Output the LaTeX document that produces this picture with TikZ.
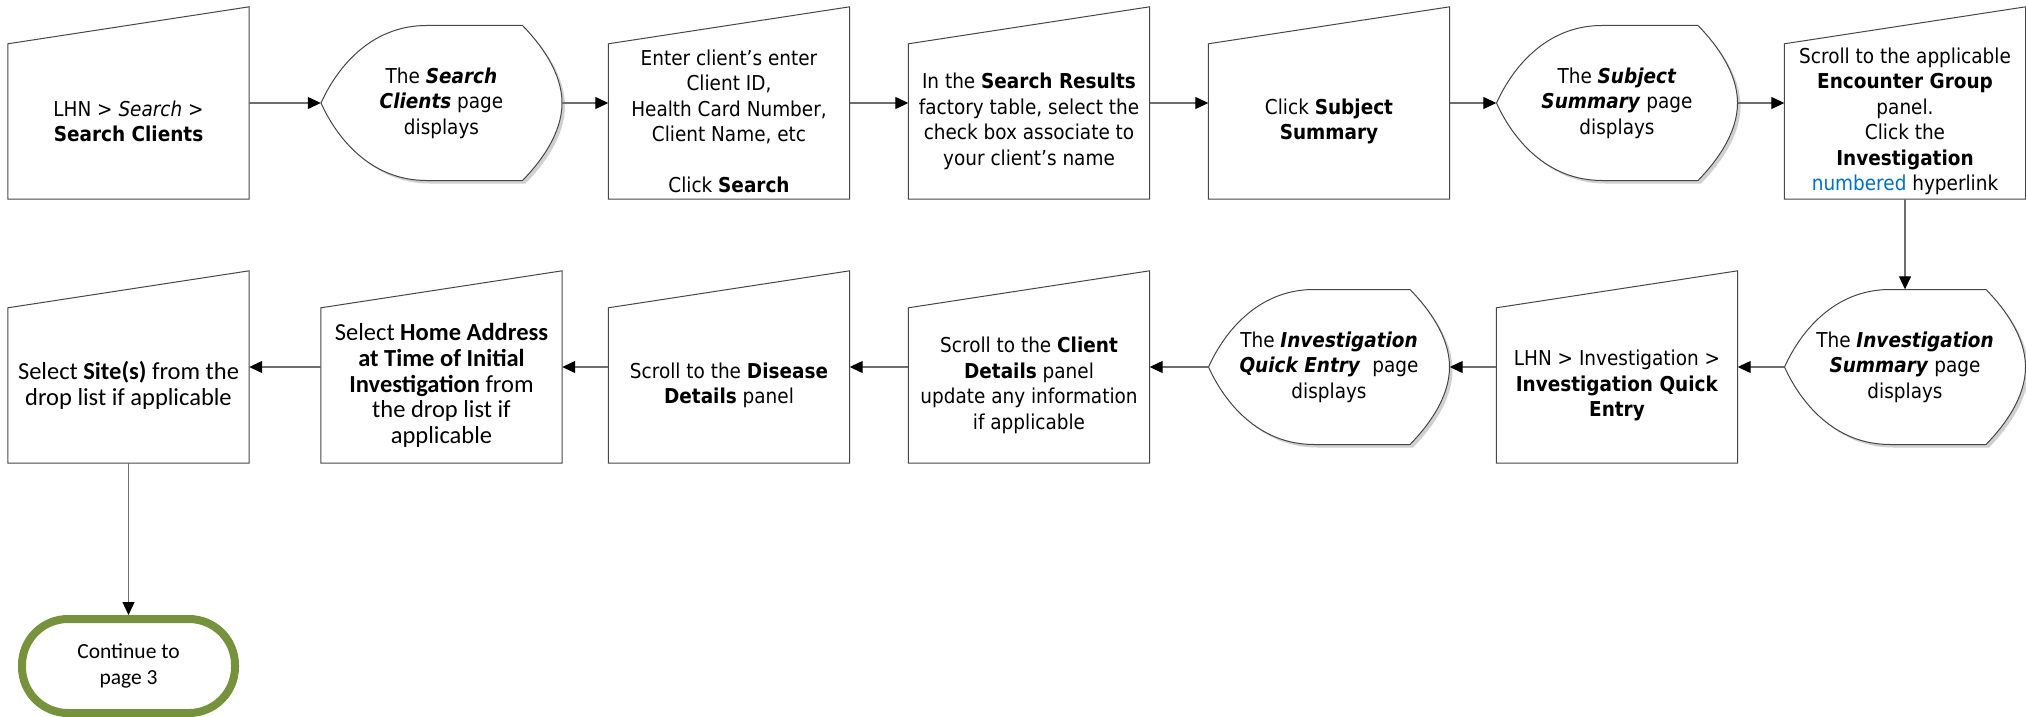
\documentclass[tikz,border=0pt]{standalone}
\usepackage{fontspec}
\newfontfamily\tahoma{DejaVu Sans}[FakeStretch=0.9]
\newfontfamily\calibri{Carlito}
\usetikzlibrary{arrows.meta,backgrounds}
\definecolor{shapegray}{RGB}{70,70,70}
\definecolor{linegray}{RGB}{110,110,110}
\definecolor{shadowgray}{RGB}{208,208,208}
\definecolor{termgreen}{RGB}{118,146,60}
\definecolor{linkblue}{RGB}{0,112,192}
\tikzset{
    manual/.style={minimum width=241pt, minimum height=192pt, inner sep=0pt},
    manualtext/.style={align=center, yshift=-18.5pt, font=\tahoma\fontsize{20.5}{25.5}\selectfont},
    manualcal/.style={manualtext, font=\calibri\fontsize{24.5}{25.7}\selectfont},
    display/.style={minimum width=241pt, minimum height=155pt, inner sep=0pt, align=center, font=\tahoma\fontsize{20.5}{25.5}\selectfont},
    terminal/.style={draw=termgreen, line width=8pt, rounded corners=46pt, minimum width=213pt, minimum height=94pt, align=center, font=\calibri\fontsize{21.5}{26}\selectfont},
    outline/.style={draw=shapegray, line width=1pt},
    flow/.style={->, > = {Triangle[length=13pt, width=12pt, color=black]}, draw=linegray, line width=1.3pt},
}
% outline of a display shape, around its centre
\newcommand{\displaypath}{(-120.5,0) .. controls (-104,-36.5) and (-70,-77.5) .. (-15,-77.5) -- (81,-77.5) .. controls (100,-58) and (120.5,-30) .. (120.5,0) .. controls (120.5,30) and (100,58) .. (81,77.5) -- (-15,77.5) .. controls (-70,77.5) and (-104,36.5) .. (-120.5,0) -- cycle}

\begin{document}
\begin{tikzpicture}[x=1pt, y=-1pt]
    \useasboundingbox (0,0) rectangle (2026,717);
    % first row
    \node[manual, label={[manualtext]center:{LHN > \textit{Search} >\\\textbf{Search Clients}}}] (a1) at (128.5,103) {};
    \node[display] (a2) at (441.5,103) {The \textbf{\textit{Search}}\\\textbf{\textit{Clients}} page\\displays};
    \node[manual, label={[manualtext]center:{Enter client’s enter\\Client ID,\\Health Card Number,\\Client Name, etc\\[25.5pt]Click \textbf{Search}}}] (a3) at (729,103) {};
    \node[manual, label={[manualtext]center:{In the \textbf{Search Results}\\factory table, select the\\check box associate to\\your client’s name}}] (a4) at (1029,103) {};
    \node[manual, label={[manualtext]center:{Click \textbf{Subject}\\\textbf{Summary}}}] (a5) at (1329,103) {};
    \node[display] (a6) at (1617,103) {The \textbf{\textit{Subject}}\\\textbf{\textit{Summary}} page\\displays};
    \node[manual, label={[manualtext]center:{Scroll to the applicable\\\textbf{Encounter Group}\\panel.\\Click the\\\textbf{Investigation}\\\textcolor{linkblue}{numbered} hyperlink}}] (a7) at (1905,103) {};
    % second row
    \node[display] (b7) at (1905,367) {The \textbf{\textit{Investigation}}\\\textbf{\textit{Summary}} page\\displays};
    \node[manual, label={[manualtext]center:{LHN > Investigation >\\\textbf{Investigation Quick}\\\textbf{Entry}}}] (b6) at (1617,367) {};
    \node[display] (b5) at (1329,367) {The \textbf{\textit{Investigation}}\\\textbf{\textit{Quick Entry}}\ \ page\\displays};
    \node[manual, label={[manualtext]center:{Scroll to the \textbf{Client}\\\textbf{Details} panel\\update any information\\if applicable}}] (b4) at (1029,367) {};
    \node[manual, label={[manualtext]center:{Scroll to the \textbf{Disease}\\\textbf{Details} panel}}] (b3) at (729,367) {};
    \node[manual, label={[manualcal]center:{Select \textbf{Home Address}\\\textbf{at Time of Initial}\\\textbf{Investigation} from\\the drop list if\\applicable}}] (b2) at (441.5,367) {};
    \node[manual, label={[manualcal]center:{Select \textbf{Site(s)} from the\\drop list if applicable}}] (b1) at (128.5,367) {};
    \node[terminal] (end) at (128.5,666) {Continue to\\page 3};

    \begin{scope}[on background layer]
        \foreach \n in {a1,a3,a4,a5,a7,b1,b2,b3,b4,b6}
            \draw[outline] (\n.south west) -- (\n.south east) -- (\n.north east) -- ([yshift=-37pt]\n.north west) -- cycle;
        \foreach \n in {a2,a6,b5,b7} {
            \fill[shadowgray, shift={(\n.center)}, shift={(3,3)}] \displaypath;
            \draw[outline, fill=white, shift={(\n.center)}] \displaypath;
        }
    \end{scope}

    \draw[flow] (a1) -- (a2);
    \draw[flow] (a2) -- (a3);
    \draw[flow] (a3) -- (a4);
    \draw[flow] (a4) -- (a5);
    \draw[flow] (a5) -- (a6);
    \draw[flow] (a6) -- (a7);
    \draw[flow] (a7) -- (b7);
    \draw[flow] (b7) -- (b6);
    \draw[flow] (b6) -- (b5);
    \draw[flow] (b5) -- (b4);
    \draw[flow] (b4) -- (b3);
    \draw[flow] (b3) -- (b2);
    \draw[flow] (b2) -- (b1);
    \draw[flow] (b1) -- (end);
\end{tikzpicture}
\end{document}
